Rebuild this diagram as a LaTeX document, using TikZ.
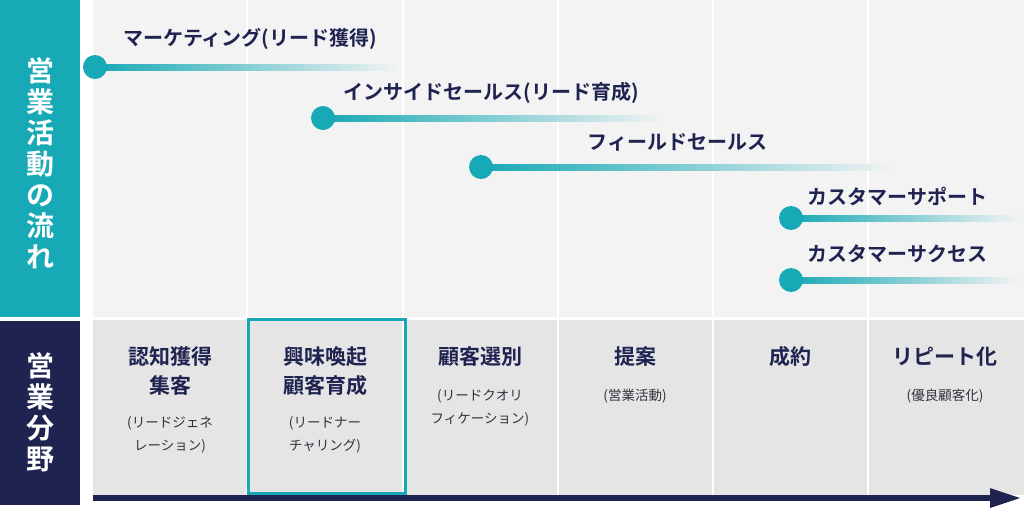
\documentclass[tikz,border=0pt]{standalone}
\usepackage{fontspec}
\setmainfont{Noto Sans CJK JP}
\newfontfamily\jpb{Noto Sans CJK JP Bold}
\definecolor{teal1}{HTML}{17A9B5}
\definecolor{navy}{HTML}{1E2350}
\definecolor{bgtop}{HTML}{F3F3F3}
\definecolor{bgbot}{HTML}{E5E5E5}
\definecolor{txt}{HTML}{333340}
\begin{document}
\begin{tikzpicture}[x=1pt,y=-1pt,
  ttl/.style={font=\jpb\fontsize{21}{29}\selectfont,text=navy,align=center},
  sub/.style={font=\fontsize{13.5}{23}\selectfont,text=txt,align=center},
  lbl/.style={font=\jpb\fontsize{20}{24}\selectfont,text=navy,anchor=west},
  dot/.style={circle,fill=teal1,minimum size=24pt,inner sep=0pt},
  side/.style={font=\jpb\fontsize{28}{31}\selectfont,text=white,align=center}]
\useasboundingbox (0,0) rectangle (1024,515);
\fill[white] (0,0) rectangle (1024,515);
\fill[teal1] (0,0) rectangle (80,317);
\fill[navy] (0,321) rectangle (80,505);
\fill[bgtop] (93,0) rectangle (1024,317);
\fill[bgbot] (93,320) rectangle (1024,495);
\foreach \x in {247,403,558,713,868} \draw[white,line width=2pt] (\x,0) -- (\x,495);
\node[side] (s1) at (40,163) {営\\業\\活\\動\\の\\流\\れ};
\node[side] (s2) at (40,412) {営\\業\\分\\野};
% timelines
\shade[left color=teal1,right color=bgtop] (95,64) rectangle (400,70);
\node[dot] (d1) at (95,67) {};
\node[lbl] (l1) at (120,39) {マーケティング(リード獲得)};
\shade[left color=teal1,right color=bgtop] (323,115) rectangle (665,121);
\node[dot] (d2) at (323,118) {};
\node[lbl] (l2) at (340,93) {インサイドセールス(リード育成)};
\shade[left color=teal1,right color=bgtop] (481,164) rectangle (895,170);
\node[dot] (d3) at (481,167) {};
\node[lbl] (l3) at (584,142) {フィールドセールス};
\shade[left color=teal1,right color=bgtop] (791,215) rectangle (1020,221);
\node[dot] (d4) at (791,218) {};
\node[lbl] (l4) at (804,196) {カスタマーサポート};
\shade[left color=teal1,right color=bgtop] (791,277) rectangle (1020,283);
\node[dot] (d5) at (791,280) {};
\node[lbl] (l5) at (804,254) {カスタマーサクセス};
% columns
\node[ttl] (t1) at (170,371) {認知獲得\\集客};
\node[sub] (u1) at (170,435) {(リードジェネ\\レーション)};
\node[ttl] (t2) at (325,371) {興味喚起\\顧客育成};
\node[sub] (u2) at (325,435) {(リードナー\\チャリング)};
\node[ttl] (t3) at (480,357) {顧客選別};
\node[sub] (u3) at (480,408) {(リードクオリ\\フィケーション)};
\node[ttl] (t4) at (635,357) {提案};
\node[sub] (u4) at (635,396) {(営業活動)};
\node[ttl] (t5) at (790,357) {成約};
\node[ttl] (t6) at (945,357) {リピート化};
\node[sub] (u6) at (945,396) {(優良顧客化)};
\draw[teal1,line width=3pt] (248,319) rectangle (405,493);
% arrow
\coordinate (a0) at (93,498);
\coordinate (a1) at (1020,498);
\fill[navy] (93,495) rectangle (992,501);
\fill[navy] (990,488) -- (1020,498) -- (990,508) -- cycle;
\end{tikzpicture}
\end{document}
